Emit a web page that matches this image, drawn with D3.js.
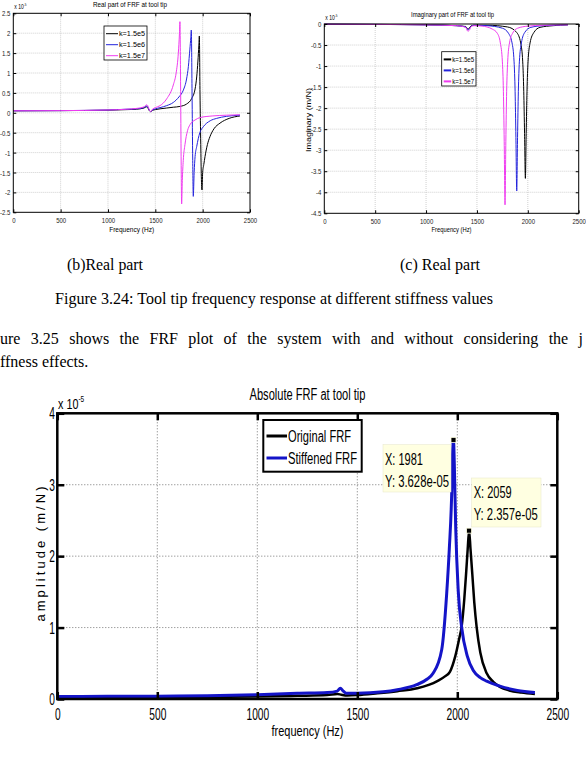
<!DOCTYPE html>
<html>
<head>
<meta charset="utf-8">
<script src="https://cdn.jsdelivr.net/npm/d3@7"></script>
<style>
body { margin: 0; background: #fff; }
svg { display: block; }
</style>
</head>
<body>
<div id="page"></div>
<script>
// ---- data (amplitudes in units of 1e-5) ----
let smallXTicks = [0, 500, 1000, 1500, 2000, 2500];
let realYTicks = [-2.5, -2, -1.5, -1, -0.5, 0, 0.5, 1, 1.5, 2, 2.5];
let imagYTicks = [-4.5, -4, -3.5, -3, -2.5, -2, -1.5, -1, -0.5, 0];
let stiffLabels = ["k=1.5e5", "k=1.5e6", "k=1.5e7"];

let realFreqK5 = [0, 500, 1000, 1200, 1300, 1380, 1408, 1420, 1435, 1451, 1470, 1500, 1550, 1620, 1690, 1760, 1830, 1884, 1920, 1937, 1950, 1960, 1965, 1972, 1980, 1986, 1993, 2000, 2012, 2025, 2050, 2077, 2120, 2183, 2280, 2394];
let realValK5  = [0.05, 0.055, 0.065, 0.08, 0.09, 0.12, 0.15, 0.13, 0.06, 0.03, 0.06, 0.08, 0.1, 0.12, 0.14, 0.16, 0.22, 0.36, 0.6, 0.9, 1.3, 1.7, 1.93, 0.5, -0.8, -1.6, -1.94, -1.5, -1.3, -1.1, -0.8, -0.6, -0.4, -0.26, -0.14, -0.08];
let realFreqK6 = [0, 500, 1000, 1200, 1300, 1380, 1408, 1420, 1435, 1451, 1470, 1500, 1550, 1620, 1690, 1750, 1796, 1830, 1849, 1865, 1875, 1880, 1888, 1895, 1901, 1910, 1920, 1937, 1970, 2007, 2080, 2148, 2250, 2394];
let realValK6  = [0.05, 0.055, 0.07, 0.09, 0.1, 0.13, 0.17, 0.15, 0.07, 0.03, 0.07, 0.1, 0.13, 0.18, 0.26, 0.4, 0.57, 0.85, 1.16, 1.6, 1.9, 2.08, 0.5, -1.2, -2.1, -1.5, -1.1, -0.85, -0.5, -0.35, -0.2, -0.14, -0.09, -0.06];
let realFreqK7 = [0, 500, 1000, 1200, 1300, 1380, 1408, 1420, 1435, 1451, 1470, 1500, 1550, 1620, 1690, 1720, 1743, 1755, 1760, 1766, 1772, 1778, 1785, 1795, 1813, 1840, 1866, 1920, 1972, 2100, 2250, 2394];
let realValK7  = [0.05, 0.055, 0.07, 0.09, 0.11, 0.15, 0.2, 0.18, 0.08, 0.03, 0.09, 0.13, 0.18, 0.35, 0.7, 1.0, 1.5, 2.0, 2.29, 1.0, -1.0, -2.29, -1.7, -1.2, -0.8, -0.45, -0.3, -0.18, -0.12, -0.08, -0.06, -0.05];

let imagFreqK5 = [0, 500, 1000, 1300, 1390, 1410, 1425, 1440, 1470, 1600, 1800, 1890, 1930, 1950, 1960, 1968, 1976, 1984, 1992, 2002, 2022, 2060, 2120, 2250, 2394];
let imagValK5  = [-0.005, -0.01, -0.02, -0.04, -0.06, -0.12, -0.1, -0.05, -0.03, -0.03, -0.07, -0.2, -0.45, -0.9, -1.6, -2.6, -3.67, -2.6, -1.6, -0.9, -0.45, -0.2, -0.08, -0.04, -0.02];
let imagFreqK6 = [0, 500, 1000, 1300, 1390, 1410, 1425, 1440, 1470, 1600, 1750, 1810, 1845, 1865, 1875, 1883, 1891, 1899, 1907, 1917, 1937, 1970, 2030, 2150, 2394];
let imagValK6  = [-0.005, -0.01, -0.02, -0.04, -0.07, -0.14, -0.12, -0.06, -0.03, -0.04, -0.1, -0.22, -0.45, -0.9, -1.6, -2.7, -3.97, -2.7, -1.6, -0.9, -0.45, -0.2, -0.08, -0.04, -0.02];
let imagFreqK7 = [0, 500, 1000, 1300, 1390, 1410, 1425, 1440, 1470, 1550, 1650, 1700, 1730, 1750, 1760, 1768, 1776, 1784, 1792, 1802, 1820, 1850, 1900, 2000, 2150, 2394];
let imagValK7  = [-0.005, -0.01, -0.02, -0.04, -0.08, -0.17, -0.15, -0.07, -0.04, -0.05, -0.12, -0.22, -0.45, -0.9, -1.6, -2.8, -4.3, -2.8, -1.6, -0.9, -0.45, -0.22, -0.1, -0.05, -0.03, -0.02];

let absXTicks = [0, 500, 1000, 1500, 2000, 2500];
let absYTicks = [0, 1, 2, 3, 4];
let absLabels = ["Original FRF", "Stiffened FRF"];
let origFreq = [0, 250, 500, 750, 1000, 1200, 1350, 1400, 1420, 1450, 1500, 1600, 1700, 1800, 1900, 1940, 1963, 1990, 2010, 2022, 2035, 2045, 2052, 2059, 2066, 2075, 2085, 2097, 2115, 2147, 2180, 2213, 2260, 2320, 2388];
let origAmp  = [0.02, 0.022, 0.025, 0.03, 0.035, 0.045, 0.055, 0.07, 0.06, 0.05, 0.055, 0.08, 0.11, 0.15, 0.25, 0.32, 0.38, 0.6, 0.85, 1.02, 1.4, 1.8, 2.1, 2.357, 2.1, 1.75, 1.35, 1.0, 0.65, 0.36, 0.24, 0.17, 0.12, 0.09, 0.07];
let stiffFreq = [0, 250, 500, 750, 1000, 1200, 1350, 1400, 1415, 1430, 1445, 1500, 1629, 1700, 1797, 1850, 1879, 1922, 1947, 1960, 1972, 1977, 1981, 1985, 1992, 2005, 2022, 2050, 2080, 2115, 2147, 2213, 2300, 2388];
let stiffAmp  = [0.035, 0.037, 0.04, 0.045, 0.06, 0.08, 0.09, 0.11, 0.15, 0.11, 0.08, 0.08, 0.1, 0.13, 0.2, 0.28, 0.36, 0.69, 1.48, 2.1, 2.88, 3.5, 3.628, 3.3, 2.4, 1.5, 1.0, 0.6, 0.4, 0.3, 0.25, 0.18, 0.12, 0.09];
let dataTips = [
    {f: 1981, a: 3.628, lines: ["X: 1981", "Y: 3.628e-05"]},
    {f: 2059, a: 2.357, lines: ["X: 2059", "Y: 2.357e-05"]}
];

let sans = "'Liberation Sans', Arial, sans-serif";
let serif = "'Liberation Serif', 'Times New Roman', serif";
let plain = d => String(d);

let svg = d3.select("#page").append("svg")
    .attr("width", 586)
    .attr("height", 757);
svg.append("rect").attr("width", 586).attr("height", 757).attr("fill", "#fff");

// plain text helper
function label(g, x, y, str, o) {
    let t = g.append("text")
        .attr("x", x)
        .attr("y", y)
        .attr("font-family", o.family || sans)
        .attr("font-size", o.size)
        .attr("fill", "#000")
        .attr("text-anchor", o.anchor || "start")
        .text(str);
    if (o.len) t.attr("textLength", o.len).attr("lengthAdjust", o.adjust || "spacingAndGlyphs");
    if (o.rotate) t.attr("transform", "rotate(" + o.rotate + "," + x + "," + y + ")");
    return t;
}

// "x 10^-5" exponent note, one text with a raised tspan
function exponent(g, x, y, size) {
    let t = g.append("text")
        .attr("x", x).attr("y", y)
        .attr("font-family", sans).attr("font-size", size).attr("fill", "#000");
    t.append("tspan").text("x 10");
    t.append("tspan").attr("dy", -size * 0.45).attr("font-size", size * 0.6).text("-5");
    t.attr("transform", "translate(" + x + ",0) scale(0.72,1) translate(" + (-x) + ",0)");
}

// ---------- the two small plots at the top ----------
function smallChart(c) {
    let g = svg.append("g");
    let x = d3.scaleLinear().domain([0, 2500]).range([c.left, c.right]);
    let y = d3.scaleLinear().domain([c.yTicks[0], c.yTicks[c.yTicks.length - 1]]).range([c.bottom, c.top]);

    g.selectAll(".gx").data(smallXTicks.slice(1, -1)).join("line")
        .attr("x1", d => x(d)).attr("x2", d => x(d))
        .attr("y1", c.top).attr("y2", c.bottom)
        .attr("stroke", "#bdbdbd").attr("stroke-width", 0.7).attr("stroke-dasharray", "1,1");
    g.selectAll(".gy").data(c.yTicks.slice(1, -1)).join("line")
        .attr("x1", c.left).attr("x2", c.right)
        .attr("y1", d => y(d)).attr("y2", d => y(d))
        .attr("stroke", "#bdbdbd").attr("stroke-width", 0.7).attr("stroke-dasharray", "1,1");

    let line = d3.line().x(d => x(d[0])).y(d => y(d[1])).curve(d3.curveMonotoneX);
    c.series.forEach(function(s) {
        g.append("path")
            .attr("d", line(d3.zip(s.f, s.v)))
            .attr("fill", "none")
            .attr("stroke", s.color)
            .attr("stroke-width", 1);
    });

    g.append("rect")
        .attr("x", c.left).attr("y", c.top)
        .attr("width", c.right - c.left).attr("height", c.bottom - c.top)
        .attr("fill", "none").attr("stroke", "#000").attr("stroke-width", 1);

    let sx = 0.75;
    let bx = g.append("g").attr("transform", "translate(0," + c.bottom + ")")
        .call(d3.axisBottom(x).tickValues(smallXTicks).tickFormat(plain).tickSizeInner(-3).tickSizeOuter(0).tickPadding(5));
    let ly = g.append("g").attr("transform", "translate(" + c.left + ",0)")
        .call(d3.axisLeft(y).tickValues(c.yTicks).tickFormat(plain).tickSizeInner(-3).tickSizeOuter(0).tickPadding(4));
    g.append("g").attr("transform", "translate(0," + c.top + ")")
        .call(d3.axisTop(x).tickValues(smallXTicks).tickFormat("").tickSizeInner(-3).tickSizeOuter(0));
    g.append("g").attr("transform", "translate(" + c.right + ",0)")
        .call(d3.axisRight(y).tickValues(c.yTicks).tickFormat("").tickSizeInner(-3).tickSizeOuter(0));
    g.selectAll(".domain").remove();
    [bx, ly].forEach(a => a.selectAll("text")
        .attr("font-size", 8).attr("font-family", sans).attr("fill", "#222")
        .attr("transform", "scale(" + sx + ",1)"));

    label(g, c.titleX, c.titleY, c.title, {size: 7, anchor: "middle", len: c.titleLen});
    exponent(g, c.left + 1, c.top - 4, 7);
    label(g, (c.left + c.right) / 2, 232, "Frequency (Hz)", {size: 8, anchor: "middle", len: c.xLabelLen});
    if (c.yLabel) label(g, c.yLabelX, c.yLabelY, c.yLabel, {size: 7, anchor: "middle", len: 64, rotate: -90});

    // legend
    let lg = g.append("g");
    lg.append("rect")
        .attr("x", c.legend[0]).attr("y", c.legend[1])
        .attr("width", c.legend[2]).attr("height", c.legend[3])
        .attr("fill", "#fff").attr("stroke", "#000").attr("stroke-width", 0.8);
    c.series.forEach(function(s, i) {
        let yy = c.legend[1] + c.legendStep * (i + 0.7);
        lg.append("line")
            .attr("x1", c.legend[0] + 2).attr("x2", c.legend[0] + c.sampleLen)
            .attr("y1", yy).attr("y2", yy)
            .attr("stroke", s.color).attr("stroke-width", c.sampleWidth);
        label(lg, c.legend[0] + c.sampleLen + 1, yy + 2.5, stiffLabels[i], {size: 7, len: c.legendTextLen});
    });
}

let cBlack = "#000000", cBlue = "#2424dc", cMagenta = "#f03cf0";

smallChart({
    left: 13.3, right: 250, top: 13.3, bottom: 212.3,
    yTicks: realYTicks,
    series: [
        {f: realFreqK5, v: realValK5, color: cBlack},
        {f: realFreqK6, v: realValK6, color: cBlue},
        {f: realFreqK7, v: realValK7, color: cMagenta}
    ],
    title: "Real part of FRF at tool tip", titleX: 130, titleY: 6.5, titleLen: 74,
    xLabelLen: 45,
    legend: [104, 26, 43, 34], legendStep: 11, sampleLen: 14, sampleWidth: 1, legendTextLen: 26
});

smallChart({
    left: 324.3, right: 578.7, top: 24, bottom: 213.3,
    yTicks: imagYTicks,
    series: [
        {f: imagFreqK5, v: imagValK5, color: cBlack},
        {f: imagFreqK6, v: imagValK6, color: cBlue},
        {f: imagFreqK7, v: imagValK7, color: cMagenta}
    ],
    title: "Imaginary part of FRF at tool tip", titleX: 452.5, titleY: 17, titleLen: 83,
    xLabelLen: 40,
    yLabel: "Imaginary  (m/N)", yLabelX: 311, yLabelY: 120,
    legend: [441.7, 51.7, 34.3, 34.3], legendStep: 11, sampleLen: 9.5, sampleWidth: 2, legendTextLen: 22
});

// ---------- document text ----------
label(svg, 67, 270, "(b)Real part", {size: 16, family: serif, len: 76});
label(svg, 400, 270, "(c) Real part", {size: 16, family: serif, len: 80});
label(svg, 55, 304, "Figure 3.24: Tool tip frequency response at different stiffness values", {size: 16, family: serif, len: 438});

// justified body line: widen only the word gaps
let body1 = label(svg, 0, 344, "ure 3.25 shows the FRF plot of the system with and without considering the j", {size: 16, family: serif});
let natural = body1.node().getComputedTextLength();
let gaps = body1.text().split(" ").length - 1;
body1.attr("word-spacing", Math.max(0, (583 - natural) / gaps));
label(svg, 0, 367, "ffness effects.", {size: 16, family: serif});

// ---------- main plot: Absolute FRF ----------
let mg = svg.append("g");
let mx = d3.scaleLinear().domain([0, 2500]).range([57.3, 557.3]);
let my = d3.scaleLinear().domain([0, 4]).range([699, 413.3]);

mg.selectAll(".gx").data(absXTicks.slice(1, -1)).join("line")
    .attr("x1", d => mx(d)).attr("x2", d => mx(d))
    .attr("y1", my(4)).attr("y2", my(0))
    .attr("stroke", "#777").attr("stroke-width", 1).attr("stroke-dasharray", "1,2");
mg.selectAll(".gy").data(absYTicks.slice(1, -1)).join("line")
    .attr("x1", mx(0)).attr("x2", mx(2500))
    .attr("y1", d => my(d)).attr("y2", d => my(d))
    .attr("stroke", "#777").attr("stroke-width", 1).attr("stroke-dasharray", "1,2");

let absLine = d3.line().x(d => mx(d[0])).y(d => my(d[1])).curve(d3.curveMonotoneX);
mg.append("path")
    .attr("d", absLine(d3.zip(origFreq, origAmp)))
    .attr("fill", "none").attr("stroke", "#000").attr("stroke-width", 2.5);
mg.append("path")
    .attr("d", absLine(d3.zip(stiffFreq, stiffAmp)))
    .attr("fill", "none").attr("stroke", "#1414c8").attr("stroke-width", 3);

mg.append("rect")
    .attr("x", mx(0)).attr("y", my(4))
    .attr("width", mx(2500) - mx(0)).attr("height", my(0) - my(4))
    .attr("fill", "none").attr("stroke", "#000").attr("stroke-width", 2.5);

let mbx = mg.append("g").attr("transform", "translate(0," + my(0) + ")")
    .call(d3.axisBottom(mx).tickValues(absXTicks).tickFormat(plain).tickSizeInner(-7).tickSizeOuter(0).tickPadding(9));
let mly = mg.append("g").attr("transform", "translate(" + mx(0) + ",0)")
    .call(d3.axisLeft(my).tickValues(absYTicks).tickFormat(plain).tickSizeInner(-7).tickSizeOuter(0).tickPadding(4));
mg.append("g").attr("transform", "translate(0," + my(4) + ")")
    .call(d3.axisTop(mx).tickValues(absXTicks).tickFormat("").tickSizeInner(-7).tickSizeOuter(0));
mg.append("g").attr("transform", "translate(" + mx(2500) + ",0)")
    .call(d3.axisRight(my).tickValues(absYTicks).tickFormat("").tickSizeInner(-7).tickSizeOuter(0));
mg.selectAll(".domain").remove();
mg.selectAll(".tick line").attr("stroke-width", 2.5);
[mbx, mly].forEach(a => a.selectAll("text")
    .attr("font-size", 17).attr("font-family", sans).attr("fill", "#000")
    .attr("transform", "scale(0.6,1)"));

label(mg, 307.5, 400, "Absolute FRF at tool tip", {size: 16, anchor: "middle", len: 116});
label(mg, 307.5, 736, "frequency (Hz)", {size: 15, anchor: "middle", len: 72});
label(mg, 45, 554, "amplitude (m/N)", {size: 13, anchor: "middle", len: 135, adjust: "spacing", rotate: -90});
exponent(mg, 58, 409, 15);

// legend
let mleg = mg.append("g");
mleg.append("rect")
    .attr("x", 263.3).attr("y", 420)
    .attr("width", 98.4).attr("height", 51.7)
    .attr("fill", "#fff").attr("stroke", "#000").attr("stroke-width", 2);
let legColors = ["#000", "#1414c8"];
let legLens = [63, 69];
absLabels.forEach(function(name, i) {
    let yy = 436 + i * 22;
    mleg.append("line")
        .attr("x1", 266.5).attr("x2", 287)
        .attr("y1", yy).attr("y2", yy)
        .attr("stroke", legColors[i]).attr("stroke-width", 3);
    label(mleg, 288, yy + 6, name, {size: 16, len: legLens[i]});
});

// data tips
let tipBoxes = [[383, 444.7, 68, 47.3], [471.7, 478, 69.3, 49]];
dataTips.forEach(function(d, i) {
    let b = tipBoxes[i];
    mg.append("rect")
        .attr("x", b[0]).attr("y", b[1])
        .attr("width", b[2]).attr("height", b[3])
        .attr("fill", "#ffffe1").attr("stroke", "#e6e6c8").attr("stroke-width", 0.5);
    label(mg, b[0] + 2, b[1] + 20.3, d.lines[0], {size: 16, len: 38});
    label(mg, b[0] + 2, b[1] + 42, d.lines[1], {size: 16, len: 64});
    mg.append("rect")
        .attr("x", mx(d.f) - 2.5).attr("y", my(d.a) - 2.5)
        .attr("width", 5).attr("height", 5)
        .attr("fill", "#000").attr("stroke", "#ffffe1").attr("stroke-width", 0.8);
});
</script>
</body>
</html>
